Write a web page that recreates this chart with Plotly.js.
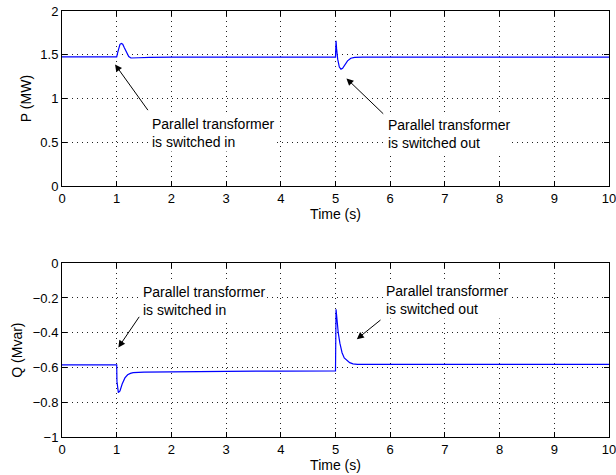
<!DOCTYPE html>
<html><head><meta charset="utf-8">
<script src="https://cdn.plot.ly/plotly-3.0.1.min.js"></script>
<style>html,body{margin:0;padding:0;background:#fff}#c{width:616px;height:475px}</style>
</head><body><div id="c"></div>
<script>
const tP = [0, 1.0, 1.02, 1.04, 1.06, 1.085, 1.11, 1.14, 1.18, 1.22, 1.26, 1.3, 1.4, 1.6, 2, 5.0, 5.01, 5.02, 5.04, 5.07, 5.1, 5.13, 5.17, 5.22, 5.28, 5.35, 5.5, 10];
const P  = [1.475, 1.475, 1.53, 1.59, 1.62, 1.63, 1.62, 1.58, 1.52, 1.48, 1.463, 1.462, 1.466, 1.47, 1.472, 1.473, 1.66, 1.57, 1.45, 1.36, 1.335, 1.345, 1.38, 1.43, 1.46, 1.47, 1.472, 1.472];
const tQ = [0, 1.0, 1.005, 1.015, 1.03, 1.06, 1.1, 1.15, 1.2, 1.25, 1.3, 1.5, 2, 3, 4, 5.0, 5.01, 5.02, 5.05, 5.08, 5.12, 5.16, 5.2, 5.26, 5.32, 5.4, 6, 10];
const Q  = [-0.585, -0.585, -0.68, -0.73, -0.745, -0.735, -0.695, -0.66, -0.642, -0.634, -0.63, -0.627, -0.624, -0.622, -0.621, -0.62, -0.265, -0.30, -0.40, -0.46, -0.515, -0.545, -0.558, -0.572, -0.579, -0.582, -0.582, -0.582];
const xTicks = [0,1,2,3,4,5,6,7,8,9,10];
const pTicks = [0,0.5,1,1.5,2];
const qTicks = [-1,-0.8,-0.6,-0.4,-0.2,0];
const qTickText = ['\u22121','\u22120.8','\u22120.6','\u22120.4','\u22120.2','0'];
const noteIn = 'Parallel transformer<br>is switched in';
const noteOut = 'Parallel transformer<br>is switched out';

const font = {family:'Liberation Sans, Arial, sans-serif', size:13, color:'#000'};
const titleFont = {family:'Liberation Sans, Arial, sans-serif', size:14, color:'#000'};
const axBase = {
  showline:true, linecolor:'#000', linewidth:1, mirror:'ticks',
  ticks:'inside', ticklen:5, tickcolor:'#000',
  showgrid:true, gridcolor:'#222', griddash:'1px,4px', gridwidth:1,
  zeroline:false, tickfont:font, ticklabeloverflow:'allow'
};
const traces = [
  {x:tP, y:P, type:'scatter', mode:'lines', line:{color:'#0000ff', width:1.2}, xaxis:'x', yaxis:'y', showlegend:false},
  {x:tQ, y:Q, type:'scatter', mode:'lines', line:{color:'#0000ff', width:1.2}, xaxis:'x2', yaxis:'y2', showlegend:false}
];
const arrow = (x,y,ax,ay,xr,yr)=>({x:x,y:y,ax:ax,ay:ay,xref:xr,yref:yr,axref:xr,ayref:yr,text:'',showarrow:true,arrowhead:2,arrowsize:1.4,arrowwidth:1,arrowcolor:'#000'});
const label = (x,y,t,xr,yr)=>({x:x,y:y,xref:xr,yref:yr,text:t,showarrow:false,xanchor:'left',yanchor:'middle',align:'left',bgcolor:'#fff',borderpad:1,font:{family:font.family,size:14,color:'#000'}});
const layout = {
  width:616, height:475,
  margin:{l:62, r:7, t:11, b:38},
  paper_bgcolor:'#fff', plot_bgcolor:'#fff',
  font:font,
  xaxis: Object.assign({}, axBase, {domain:[0,1], range:[0,10], tickvals:xTicks, anchor:'y',
    title:{text:'Time (s)', font:titleFont, standoff:0}}),
  yaxis: Object.assign({}, axBase, {domain:[0.589,1], range:[0,2], tickvals:pTicks, ticktext:['0','0.5','1','1.5','2'], anchor:'x',
    title:{text:'P (MW)', font:titleFont, standoff:5}}),
  xaxis2: Object.assign({}, axBase, {domain:[0,1], range:[0,10], tickvals:xTicks, anchor:'y2',
    title:{text:'Time (s)', font:titleFont, standoff:0}}),
  yaxis2: Object.assign({}, axBase, {domain:[0,0.408], range:[-1,0], tickvals:qTicks, ticktext:qTickText, anchor:'x2',
    title:{text:'Q (Mvar)', font:titleFont, standoff:6}}),
  annotations: [
    arrow(0.97,1.39,1.59,0.85,'x','y'),
    label(1.6,0.61,noteIn,'x','y'),
    arrow(5.2,1.23,5.9,0.81,'x','y'),
    label(5.93,0.59,noteOut,'x','y'),
    arrow(1.03,-0.485,1.43,-0.30,'x2','y2'),
    label(1.44,-0.22,noteIn,'x2','y2'),
    arrow(5.39,-0.437,5.85,-0.32,'x2','y2'),
    label(5.88,-0.214,noteOut,'x2','y2')
  ]
};
Plotly.newPlot('c', traces, layout, {displayModeBar:false, staticPlot:true});
</script></body></html>
